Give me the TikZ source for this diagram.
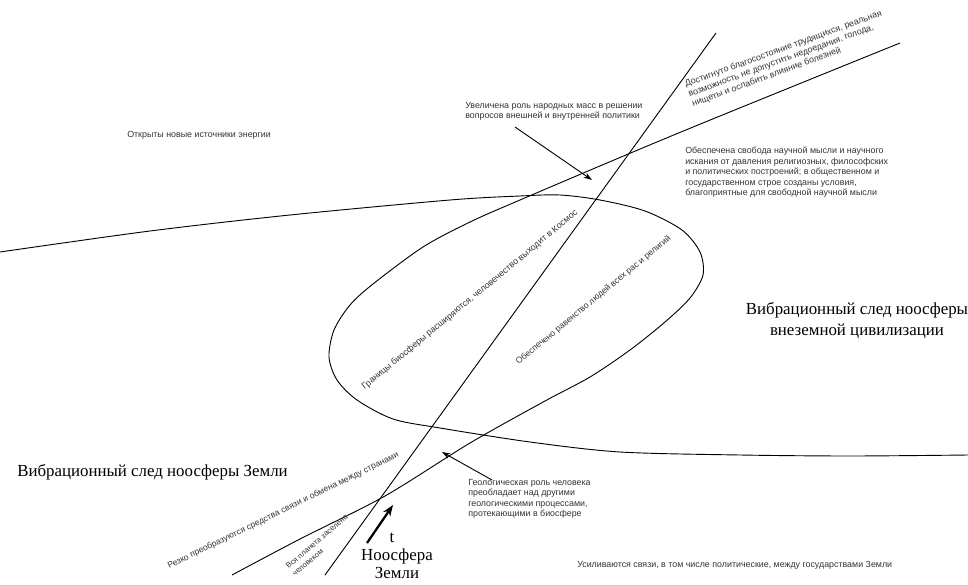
\documentclass[tikz,border=0pt]{standalone}
\usepackage{fontspec}
\setmainfont{Liberation Serif}
\setsansfont{Liberation Sans}
\usetikzlibrary{arrows.meta}
\definecolor{notegray}{HTML}{333333}
\newcommand{\notefont}{\sffamily\fontsize{6.3}{7.4}\selectfont}
\newcommand{\smallnote}{\sffamily\fontsize{5.4}{7.1}\selectfont}
\newcommand{\bigfont}{\rmfamily\fontsize{12}{15.4}\selectfont}

\begin{document}
\begin{tikzpicture}[x=0.025cm,y=-0.025cm,
  trace/.style={line width=0.65pt},
  note/.style={font=\notefont,text=notegray,inner sep=0pt,align=left},
  title/.style={font=\bigfont,inner sep=0pt,align=center},
  pointer/.style={line width=0.65pt,-{Stealth[length=6pt,width=4pt]}}]
\useasboundingbox (0,0) rectangle (968,585);
% \draw[help lines,step=50] (0,0) grid (968,585);
\coordinate (axbot) at (325,575);
\coordinate (axtop) at (716,33);
\draw[trace] (axbot) -- (axtop);
%
% trace of the Earth noosphere, from the left
\draw[trace] plot[smooth] coordinates {(0,252) (150,231) (290,215) (450,200)
  (520,196) (560,195) (600,200) (645,211) (682,230) (700,252) (703,275)
  (690,298) (665,322) (630,350) (590,377) (545,401) (470,443) (385,496)
  (300,539) (232,575)};
% trace of the alien noosphere, from the right
\draw[trace] plot[smooth] coordinates {(968,455) (850,456) (740,455) (620,452)
  (530,442) (440,428) (393,419) (357,400) (337,380) (329,357) (334,330)
  (350,305) (373,284) (423,247) (470,222) (520,200) (633,152) (720,116)
  (900,43)};
%
\node[note,anchor=base west] (energy) at (127,137.5) {Открыты новые источники энергии};
\node[note,anchor=base west] (masses) at (465,118.9) {Увеличена роль народных масс в решении\\вопросов внешней и внутренней политики};
\node[note,anchor=base west] (freedom) at (685,195.6) {Обеспечена свобода научной мысли и научного\\искания от давления религиозных, философских\\и политических построений; в общественном и\\государственном строе созданы условия,\\благоприятные для свободной научной мысли};
\node[note,anchor=base west,rotate=20] (welfare) at (693,106.6) {Достигнуто благосостояние трудящихся, реальная\\возможность не допустить недоедания, голода,\\нищеты и ослабить влияние болезней};
\node[note,anchor=base west,rotate=39.5] (cosmos) at (364.5,390) {Границы биосферы расширяются, человечество выходит в Космос};
\node[note,anchor=base west,rotate=39.4,font=\sffamily\fontsize{6.1}{7.4}\selectfont] (equality) at (518.5,365) {Обеспечено равенство людей всех рас и религий};
\node[note,anchor=base west,rotate=26,font=\sffamily\fontsize{6.1}{7.4}\selectfont] (comms) at (169,569) {Резко преобразуются средства связи и обмена между странами};
\node[note,font=\smallnote,anchor=base west,rotate=40.5] (settled) at (295,576.6) {Вся планета заселена\\человеком};
\node[note,anchor=base west] (geology) at (468,516.7) {Геологическая роль человека\\преобладает над другими\\геологическими процессами,\\протекающими в биосфере};
\node[note,anchor=base west] (links) at (577,567.5) {Усиливаются связи, в том числе политические, между государствами Земли};
%
\node[title,anchor=base west] (earthtrace) at (17,476) {Вибрационный след ноосферы Земли};
\node[title,anchor=base] (alientrace) at (857,335.7) {Вибрационный след ноосферы\\внеземной цивилизации};
\node[title,anchor=base] (tlabel) at (392,542) {t};
\node[title,anchor=base,font=\rmfamily\fontsize{12}{12.4}\selectfont] (noosphere) at (397,578) {Ноосфера\\Земли};
%
\coordinate (m1) at (515,127);
\coordinate (m2) at (592,180);
\coordinate (g1) at (492,480);
\coordinate (g2) at (442,452);
\coordinate (t1) at (367,543);
\coordinate (t2) at (393,505);
\path[pointer] (m1) edge (m2);
\path[pointer] (g1) edge (g2);
\path[line width=1.6pt,-{Stealth[length=8pt,width=6pt]}] (t1) edge (t2);
\end{tikzpicture}
\end{document}
